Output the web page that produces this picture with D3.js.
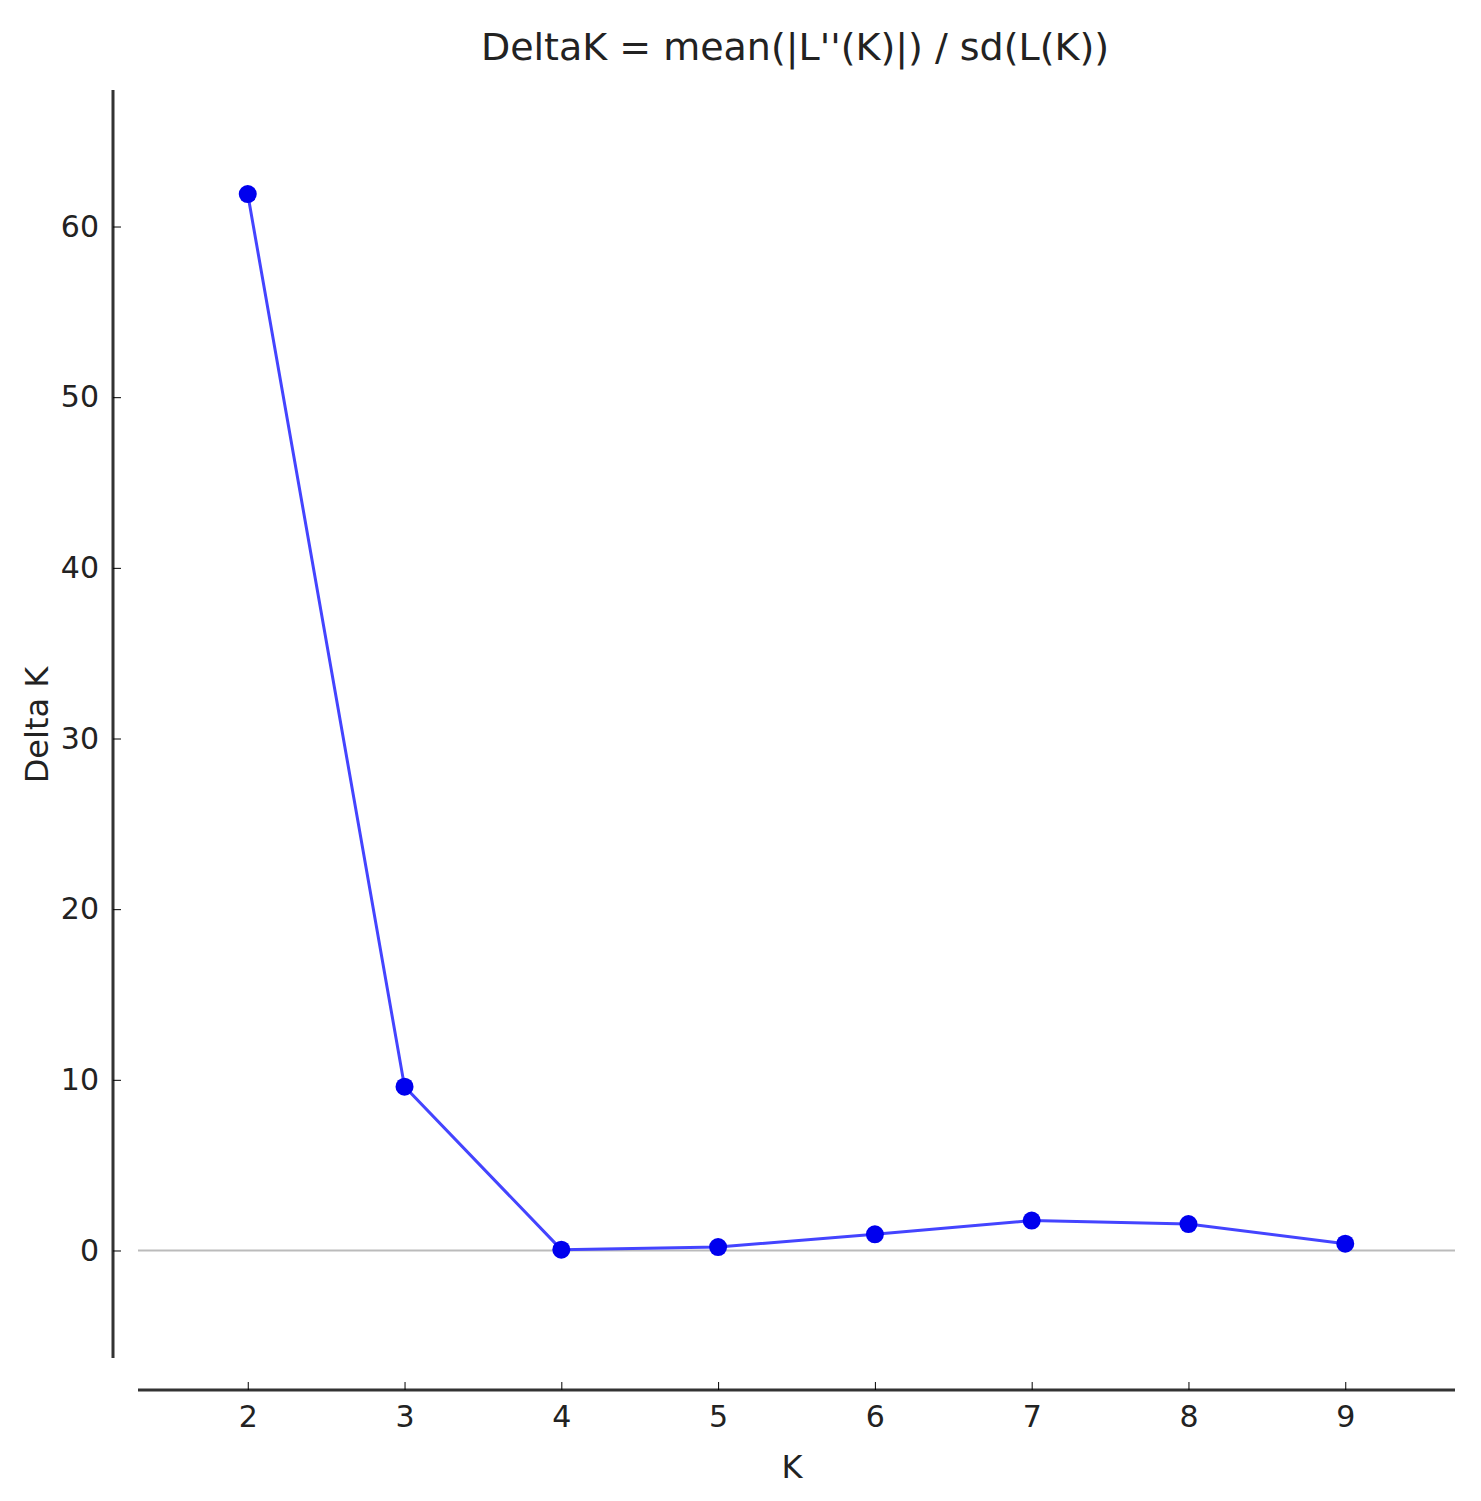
<!DOCTYPE html>
<html>
<head>
<meta charset="utf-8">
<script src="https://cdn.jsdelivr.net/npm/d3@7"></script>
<style>
  body { margin: 0; background: #fff; }
  text { font-family: "DejaVu Sans", sans-serif; fill: #222; }
</style>
</head>
<body>
<svg id="chart" width="1481" height="1501"></svg>
<script>
const kValues = [2, 3, 4, 5, 6, 7, 8, 9];
const deltaK = [61.9, 9.6, 0.05, 0.2, 0.95, 1.75, 1.55, 0.4];
const yTicks = [0, 10, 20, 30, 40, 50, 60];

const svg = d3.select("#chart");

// scales fitted to the plot box
const x = d3.scaleLinear().domain([1.3, 9.7]).range([138, 1455]);
const y = d3.scaleLinear().domain([-6.3, 68]).range([1358, 90]);

// title
svg.append("text")
  .attr("x", 795).attr("y", 60)
  .attr("text-anchor", "middle")
  .attr("font-size", 38)
  .text("DeltaK = mean(|L''(K)|) / sd(L(K))");

// y axis
const yAxis = svg.append("g")
  .attr("transform", "translate(113,0)")
  .call(d3.axisLeft(y).tickValues(yTicks).tickSize(-8).tickPadding(14));
yAxis.select(".domain").attr("stroke", "#333").attr("stroke-width", 3)
  .attr("d", `M0,${y(68)}V${y(-6.3)}`);
yAxis.selectAll("text").attr("font-size", 30).attr("fill", "#222");

// x axis
const xAxis = svg.append("g")
  .attr("transform", "translate(0,1390)")
  .call(d3.axisBottom(x).tickValues(kValues).tickSize(-8).tickPadding(16));
xAxis.select(".domain").attr("stroke", "#333").attr("stroke-width", 3)
  .attr("d", `M${x(1.3)},0H${x(9.7)}`);
xAxis.selectAll("text").attr("font-size", 30).attr("fill", "#222");

// zero line
svg.append("line")
  .attr("x1", x(1.3)).attr("x2", x(9.7))
  .attr("y1", y(0)).attr("y2", y(0))
  .attr("stroke", "#bbb").attr("stroke-width", 2);

// axis labels
svg.append("text")
  .attr("x", 792).attr("y", 1478)
  .attr("text-anchor", "middle")
  .attr("font-size", 32)
  .text("K");
svg.append("text")
  .attr("transform", "translate(48,725) rotate(-90)")
  .attr("text-anchor", "middle")
  .attr("font-size", 32)
  .text("Delta K");

// series
const pts = kValues.map((k, i) => [k, deltaK[i]]);
svg.append("path")
  .datum(pts)
  .attr("fill", "none")
  .attr("stroke", "#4444ff")
  .attr("stroke-width", 3)
  .attr("d", d3.line().x(d => x(d[0])).y(d => y(d[1])));

svg.selectAll(".dot")
  .data(pts)
  .join("circle")
  .attr("cx", d => x(d[0]))
  .attr("cy", d => y(d[1]))
  .attr("r", 9)
  .attr("fill", "#0000ee");
</script>
</body>
</html>
